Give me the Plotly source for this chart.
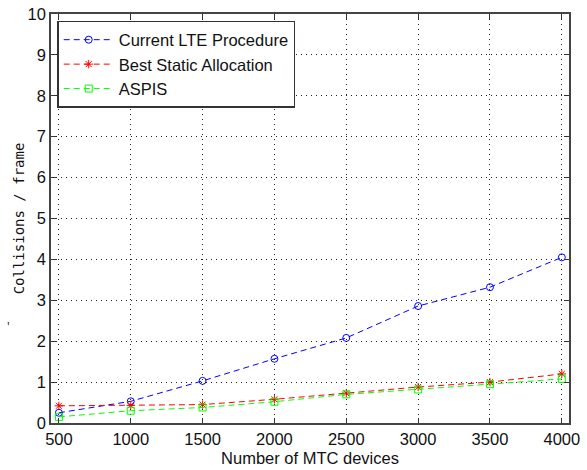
"""Collisions per frame vs number of MTC devices."""

import plotly.graph_objects as go

devices = [500, 1000, 1500, 2000, 2500, 3000, 3500, 4000]
current_lte = [0.25, 0.53, 1.03, 1.57, 2.08, 2.86, 3.32, 4.05]
best_static = [0.42, 0.43, 0.45, 0.58, 0.73, 0.88, 1.00, 1.20]
aspis = [0.15, 0.30, 0.38, 0.52, 0.70, 0.82, 0.95, 1.08]

x_ticks = [500, 1000, 1500, 2000, 2500, 3000, 3500, 4000]
y_ticks = list(range(0, 11))

series = [
    ("Current LTE Procedure", current_lte, "#0000ff", "circle-open", 7),
    ("Best Static Allocation", best_static, "#ff0000", "asterisk-open", 7),
    ("ASPIS", aspis, "#00ff00", "square-open", 7),
]

fig = go.Figure()
for name, vals, color, symbol, size in series:
    fig.add_trace(
        go.Scatter(
            x=devices, y=vals, name=name, mode="lines+markers",
            line=dict(color=color, width=1, dash="6px,4px"),
            marker=dict(symbol=symbol, size=size, color=color,
                        line=dict(color=color, width=1)),
        )
    )

axis_style = dict(
    showline=True, linecolor="#444444", linewidth=1.5, mirror="ticks",
    ticks="inside", ticklen=5, tickcolor="#333333",
    showgrid=True, gridcolor="#222222", griddash="1px,4px", gridwidth=1,
    zeroline=False, automargin=False,
    tickfont=dict(family="Liberation Sans, Arial", size=16.5, color="#111111"),
)

fig.update_layout(
    width=587, height=470,
    margin=dict(l=51, r=18, t=14, b=47),
    paper_bgcolor="white", plot_bgcolor="white",
    xaxis=dict(range=[445, 4050], tickvals=x_ticks,
               title=dict(text="Number of MTC devices", standoff=6,
                          font=dict(family="Liberation Sans, Arial", size=16.5,
                                    color="#111111")),
               **axis_style),
    yaxis=dict(range=[0, 10], tickvals=y_ticks,
               title=dict(text="Collisions / frame", standoff=0,
                          font=dict(family="DejaVu Sans Mono, monospace",
                                    size=14, color="#111111")),
               **axis_style),
    legend=dict(x=0.012, y=0.983, xanchor="left", yanchor="top",
                bgcolor="white", bordercolor="#333333", borderwidth=1.5,
                font=dict(family="Liberation Sans, Arial", size=16.5,
                          color="#111111"),
                tracegroupgap=0, itemwidth=50),
    showlegend=True,
    annotations=[dict(text="'", xref="paper", yref="paper", x=-0.089, y=0.21,
                      showarrow=False, font=dict(size=12, color="#111111"))],
)

# the page body has an 8px default margin; drop it so the figure fills the window
fig.write_html(
    "out.html",
    config={"displayModeBar": False},
    post_script="document.body.style.margin='0';document.body.style.overflow='hidden';",
)
